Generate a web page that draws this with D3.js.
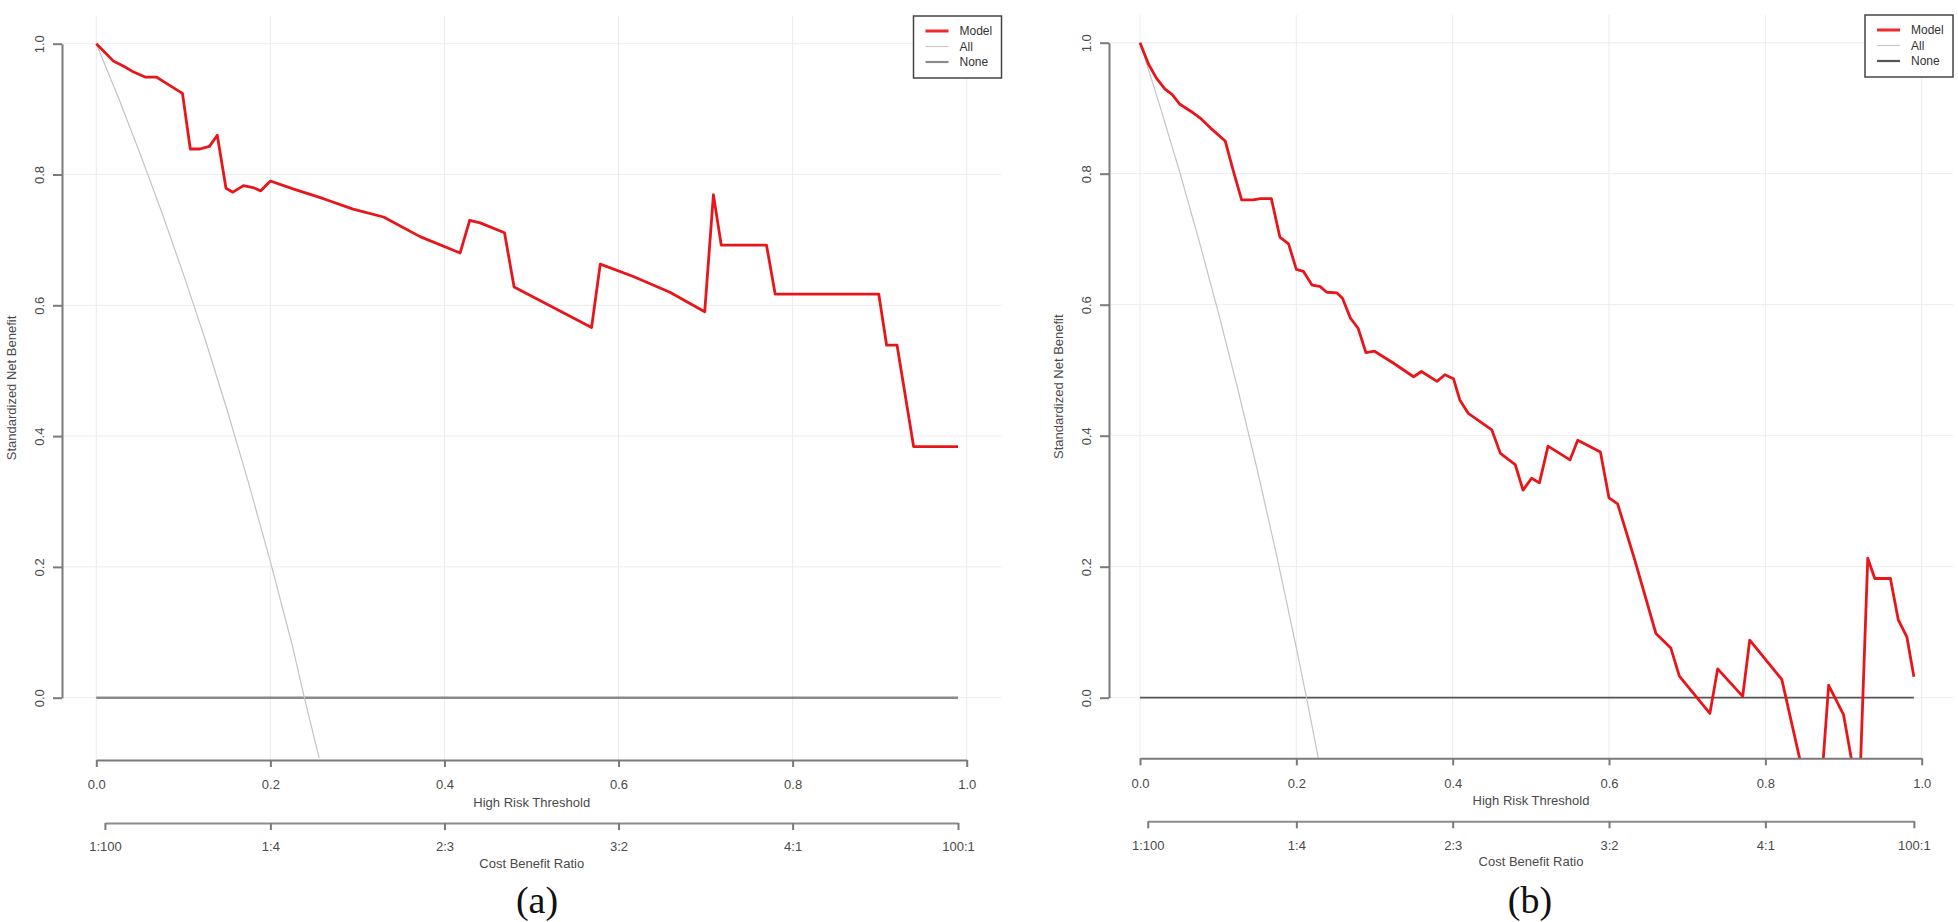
<!DOCTYPE html>
<html>
<head>
<meta charset="utf-8">
<script src="https://cdn.jsdelivr.net/npm/d3@7"></script>
<style>
  body { margin: 0; background: #fff; }
  svg { display: block; }
  text { font-family: "Liberation Sans", Arial, sans-serif; }
</style>
</head>
<body>
<svg id="chart" width="1958" height="922"></svg>
<script>
// threshold ticks shared by both panels
const riskTicks = [0, 0.2, 0.4, 0.6, 0.8, 1.0]
const benefitTicks = [0, 0.2, 0.4, 0.6, 0.8, 1.0]
const costTicks = [0.0099, 0.2, 0.4, 0.6, 0.8, 0.99]
const costLabels = ['1:100', '1:4', '2:3', '3:2', '4:1', '100:1']
const legendNames = ['Model', 'All', 'None']

// panel (a): [threshold, standardized net benefit]
const modelA = [
  [0, 1.0], [0.02, 0.973], [0.031, 0.966], [0.041, 0.958], [0.056, 0.949], [0.069, 0.949],
  [0.081, 0.939], [0.099, 0.924], [0.108, 0.839], [0.119, 0.839], [0.13, 0.843], [0.139, 0.86],
  [0.149, 0.779], [0.157, 0.773], [0.169, 0.783], [0.18, 0.78], [0.189, 0.775], [0.2, 0.79],
  [0.226, 0.778], [0.261, 0.763], [0.295, 0.747], [0.33, 0.735], [0.372, 0.705], [0.418, 0.68],
  [0.429, 0.73], [0.441, 0.726], [0.469, 0.711], [0.48, 0.628], [0.569, 0.566], [0.579, 0.663],
  [0.617, 0.644], [0.659, 0.62], [0.699, 0.59], [0.709, 0.769], [0.718, 0.692], [0.77, 0.692],
  [0.78, 0.617], [0.899, 0.617], [0.908, 0.539], [0.92, 0.539], [0.939, 0.384], [0.99, 0.384]
]
const allA = [
  [0, 1.0], [0.025, 0.919], [0.05, 0.833], [0.075, 0.743], [0.1, 0.648], [0.125, 0.548],
  [0.15, 0.441], [0.175, 0.328], [0.2, 0.208], [0.225, 0.081], [0.239, 0.0], [0.256, -0.092]
]
const noneA = [[0, 0], [0.99, 0]]

// panel (b)
const modelB = [
  [0, 1.0], [0.011, 0.967], [0.021, 0.946], [0.032, 0.929], [0.041, 0.921], [0.051, 0.906],
  [0.068, 0.893], [0.077, 0.885], [0.09, 0.87], [0.109, 0.85], [0.119, 0.806], [0.13, 0.76],
  [0.145, 0.76], [0.154, 0.762], [0.168, 0.762], [0.179, 0.703], [0.19, 0.693], [0.2, 0.654],
  [0.209, 0.651], [0.22, 0.63], [0.23, 0.628], [0.239, 0.619], [0.252, 0.618], [0.259, 0.61],
  [0.269, 0.58], [0.279, 0.564], [0.289, 0.527], [0.3, 0.529], [0.324, 0.511], [0.35, 0.49],
  [0.36, 0.498], [0.38, 0.483], [0.39, 0.493], [0.401, 0.487], [0.409, 0.455], [0.42, 0.434],
  [0.45, 0.409], [0.461, 0.373], [0.48, 0.356], [0.49, 0.317], [0.501, 0.335], [0.511, 0.328],
  [0.522, 0.384], [0.55, 0.363], [0.56, 0.393], [0.589, 0.375], [0.6, 0.305], [0.611, 0.296],
  [0.633, 0.21], [0.66, 0.098], [0.679, 0.076], [0.69, 0.033], [0.729, -0.024], [0.739, 0.044],
  [0.771, 0.002], [0.78, 0.088], [0.821, 0.028], [0.85, -0.125], [0.86, -0.15], [0.87, -0.16],
  [0.881, 0.019], [0.9, -0.026], [0.92, -0.16], [0.931, 0.213], [0.94, 0.182], [0.96, 0.182],
  [0.97, 0.119], [0.981, 0.093], [0.99, 0.032]
]
const allB = [
  [0, 1.0], [0.025, 0.905], [0.05, 0.806], [0.075, 0.7], [0.1, 0.589], [0.125, 0.472],
  [0.15, 0.348], [0.175, 0.216], [0.2, 0.076], [0.213, 0.0], [0.228, -0.092]
]
const noneB = [[0, 0], [0.99, 0]]

const svg = d3.select('#chart')

function drawPanel(p) {
  const g = svg.append('g')
  const x = d3.scaleLinear().domain([0, 1]).range([p.x0, p.x1])
  const y = d3.scaleLinear().domain([0, 1]).range([p.y0, p.y1])
  const { left, right, top, bottom } = p.box

  // grid
  g.selectAll('.vgrid').data(riskTicks).enter().append('line')
    .attr('x1', d => x(d)).attr('x2', d => x(d))
    .attr('y1', top).attr('y2', bottom)
    .attr('stroke', '#ececec').attr('stroke-width', 1)
  g.selectAll('.hgrid').data(benefitTicks).enter().append('line')
    .attr('x1', left).attr('x2', right)
    .attr('y1', d => y(d)).attr('y2', d => y(d))
    .attr('stroke', '#ececec').attr('stroke-width', 1)

  const clipId = 'clip-' + p.id
  svg.append('clipPath').attr('id', clipId)
    .append('rect').attr('x', left).attr('y', top)
    .attr('width', right - left).attr('height', bottom - top)

  const line = d3.line().x(d => x(d[0])).y(d => y(d[1]))
  const lines = g.append('g').attr('clip-path', `url(#${clipId})`)
  lines.append('path').datum(p.none).attr('d', line)
    .attr('fill', 'none').attr('stroke', p.noneColor).attr('stroke-width', p.noneWidth)
  lines.append('path').datum(p.all).attr('d', line)
    .attr('fill', 'none').attr('stroke', '#c4c4c4').attr('stroke-width', 1.2)
  lines.append('path').datum(p.model).attr('d', line)
    .attr('fill', 'none').attr('stroke', '#e8161b').attr('stroke-width', 2.8)
    .attr('stroke-linejoin', 'round')

  // axes, R style
  const styleAxis = sel => {
    sel.select('.domain').attr('stroke', '#7a7a7a').attr('stroke-width', 2)
    sel.selectAll('.tick line').attr('stroke', '#7a7a7a').attr('stroke-width', 2)
    sel.selectAll('.tick text').attr('fill', '#4a4a4a')
      .style('font-size', '13px').style('font-family', '"Liberation Sans", Arial, sans-serif')
  }

  const yAxis = g.append('g').attr('transform', `translate(${left},0)`)
    .call(d3.axisLeft(y).tickValues(benefitTicks).tickFormat(d3.format('.1f'))
      .tickSize(9).tickSizeOuter(0))
  styleAxis(yAxis)
  yAxis.selectAll('.tick text')
    .attr('x', null).attr('dy', null)
    .attr('text-anchor', 'middle')
    .attr('transform', 'translate(-23,0) rotate(-90)')
    .attr('y', 0).attr('dy', '0.35em')

  const xAxis = g.append('g').attr('transform', `translate(0,${bottom})`)
    .call(d3.axisBottom(x).tickValues(riskTicks).tickFormat(d3.format('.1f'))
      .tickSize(7).tickSizeOuter(0).tickPadding(13))
  styleAxis(xAxis)

  const cb = x.copy().domain([costTicks[0], costTicks[costTicks.length - 1]])
    .range([x(costTicks[0]), x(costTicks[costTicks.length - 1])])
  const cbAxis = g.append('g').attr('transform', `translate(0,${bottom + 63})`)
    .call(d3.axisBottom(cb).tickValues(costTicks).tickFormat((d, i) => costLabels[i])
      .tickSize(7).tickSizeOuter(0).tickPadding(12))
  styleAxis(cbAxis)
  cbAxis.select('.domain').attr('stroke', '#8c8c8c')

  const mid = (left + right) / 2
  g.append('text').attr('x', mid).attr('y', bottom + 47)
    .attr('text-anchor', 'middle').attr('fill', '#4a4a4a').style('font-size', '13px')
    .text('High Risk Threshold')
  g.append('text').attr('x', mid).attr('y', bottom + 108)
    .attr('text-anchor', 'middle').attr('fill', '#4a4a4a').style('font-size', '13px')
    .text('Cost Benefit Ratio')
  g.append('text')
    .attr('transform', `translate(${left - 51},${(top + bottom) / 2}) rotate(-90)`)
    .attr('text-anchor', 'middle').attr('dy', '0.35em')
    .attr('fill', '#4a4a4a').style('font-size', '13px')
    .text('Standardized Net Benefit')

  // legend
  const lg = g.append('g').attr('transform', `translate(${right - 88},${top})`)
  lg.append('rect').attr('width', 88).attr('height', 62)
    .attr('fill', '#fff').attr('stroke', '#444').attr('stroke-width', 1.5)
  const legendStyle = [
    { color: '#ee2a2a', width: 3 },
    { color: '#c8c8c8', width: 1.2 },
    { color: p.noneColor, width: 2.2 }
  ]
  legendNames.forEach((name, i) => {
    const ly = 15 + i * 15.5
    lg.append('line').attr('x1', 12).attr('x2', 35).attr('y1', ly).attr('y2', ly)
      .attr('stroke', legendStyle[i].color).attr('stroke-width', legendStyle[i].width)
    lg.append('text').attr('x', 46).attr('y', ly).attr('dy', '0.35em')
      .attr('fill', '#333').style('font-size', '12px').text(name)
  })

  svg.append('text').attr('x', p.labelX).attr('y', 913)
    .attr('text-anchor', 'middle').attr('fill', '#111')
    .style('font-family', '"Liberation Serif", "Times New Roman", serif')
    .style('font-size', '38px')
    .text(p.label)
}

drawPanel({
  id: 'a', label: '(a)', labelX: 537,
  x0: 96.3, x1: 966.7, y0: 697.7, y1: 43.7,
  box: { left: 62, right: 1001.5, top: 16, bottom: 760 },
  model: modelA, all: allA, none: noneA,
  noneColor: '#8a8a8a', noneWidth: 2.5
})

drawPanel({
  id: 'b', label: '(b)', labelX: 1530,
  x0: 1140, x1: 1921.7, y0: 697.7, y1: 42.7,
  box: { left: 1109, right: 1953, top: 15, bottom: 758.3 },
  model: modelB, all: allB, none: noneB,
  noneColor: '#555555', noneWidth: 1.8
})
</script>
</body>
</html>
